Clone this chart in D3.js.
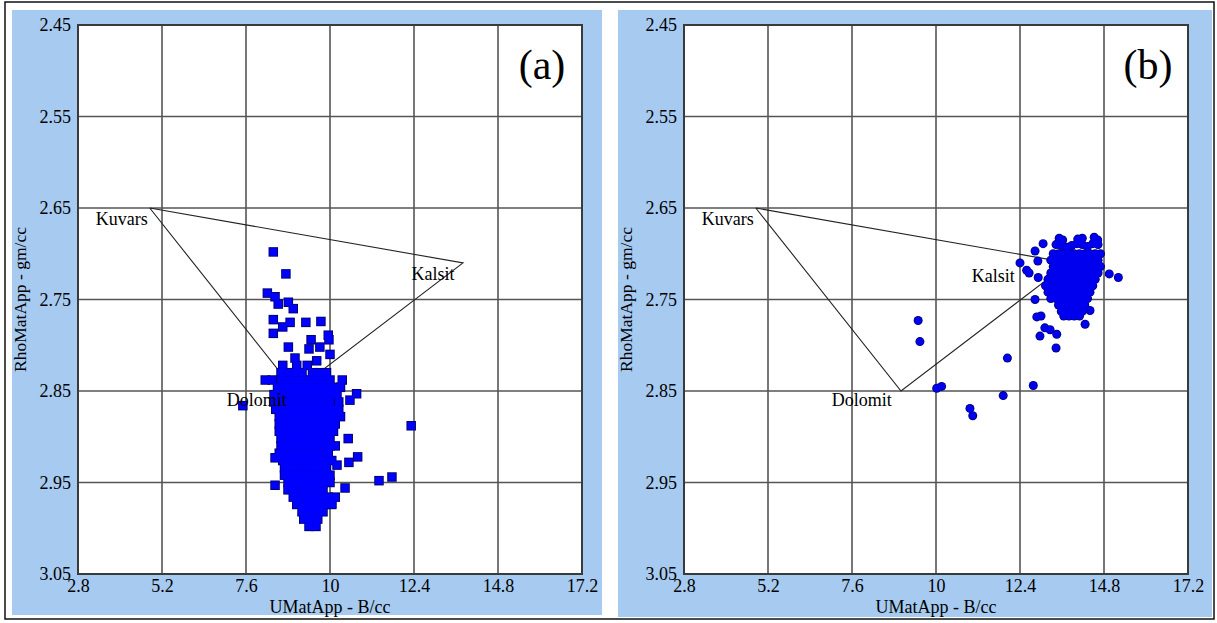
<!DOCTYPE html>
<html>
<head>
<meta charset="utf-8">
<script src="https://cdn.jsdelivr.net/npm/d3@7/dist/d3.min.js"></script>
<style>
  html, body { margin: 0; padding: 0; background: #ffffff; }
  svg { display: block; }
  text { font-family: "Liberation Serif", "Times New Roman", serif; fill: #000; }
</style>
</head>
<body>
<svg id="chart" width="1217" height="623"></svg>
<script>
// Axis ticks (apparent matrix photoelectric cross-section vs apparent matrix density)
const uTicks = [2.8, 5.2, 7.6, 10, 12.4, 14.8, 17.2];
const rhoTicks = [2.45, 2.55, 2.65, 2.75, 2.85, 2.95, 3.05];

// Mineral end-points of the lithology triangle
const mineralNames = ["Kuvars", "Kalsit", "Dolomit"];
const mineralU = [4.85, 13.8, 9.0];
const mineralRho = [2.65, 2.71, 2.85];

// Panel (a): UMatApp, RhoMatApp pairs
const wellA = [
  [8.38,2.698],[8.74,2.722],[8.21,2.743],[8.43,2.747],[8.52,2.755],[8.81,2.753],[8.95,2.760],
  [8.38,2.772],[8.86,2.775],[8.65,2.780],[8.38,2.787],[9.31,2.775],[9.74,2.774],[9.95,2.789],
  [9.97,2.794],[9.46,2.794],[9.71,2.802],[9.40,2.804],[8.81,2.802],[10.0,2.810],[9.0,2.814],
  [9.62,2.817],[7.51,2.866],[10.76,2.853],[10.57,2.860],[10.52,2.902],[10.79,2.922],[10.54,2.928],
  [10.2,2.931],[8.43,2.923],[8.43,2.953],[10.43,2.956],[11.40,2.948],[11.77,2.944],[12.32,2.888],
  [10.05,2.973],
  [8.65,2.822],[9.05,2.822],[9.35,2.822],
  [8.6,2.830],[8.8,2.830],[9.0,2.830],[9.2,2.830],[9.5,2.830],[9.7,2.830],[9.9,2.830],
  [8.15,2.838],[8.35,2.838],[8.6,2.838],[8.8,2.838],[9.0,2.838],[9.2,2.838],[9.4,2.838],[9.6,2.838],[9.8,2.838],[10.0,2.838],[10.35,2.838],
  [8.5,2.846],[8.7,2.846],[8.9,2.846],[9.1,2.846],[9.3,2.846],[9.5,2.846],[9.7,2.846],[9.9,2.846],[10.1,2.846],[10.3,2.846],
  [8.4,2.854],[8.6,2.854],[8.8,2.854],[9.0,2.854],[9.2,2.854],[9.4,2.854],[9.6,2.854],[9.8,2.854],[10.0,2.854],[10.2,2.854],
  [8.4,2.862],[8.6,2.862],[8.8,2.862],[9.0,2.862],[9.2,2.862],[9.4,2.862],[9.6,2.862],[9.8,2.862],[10.0,2.862],[10.25,2.862],
  [8.45,2.870],[8.65,2.870],[8.85,2.870],[9.05,2.870],[9.25,2.870],[9.45,2.870],[9.65,2.870],[9.85,2.870],[10.05,2.870],[10.25,2.870],
  [8.55,2.878],[8.75,2.878],[8.95,2.878],[9.15,2.878],[9.35,2.878],[9.55,2.878],[9.75,2.878],[9.95,2.878],[10.15,2.878],[10.3,2.878],
  [8.55,2.886],[8.75,2.886],[8.95,2.886],[9.15,2.886],[9.35,2.886],[9.55,2.886],[9.75,2.886],[9.95,2.886],[10.15,2.886],
  [8.55,2.894],[8.75,2.894],[8.95,2.894],[9.15,2.894],[9.35,2.894],[9.55,2.894],[9.75,2.894],[9.95,2.894],[10.1,2.894],
  [8.6,2.902],[8.8,2.902],[9.0,2.902],[9.2,2.902],[9.4,2.902],[9.6,2.902],[9.8,2.902],[10.0,2.902],
  [8.6,2.910],[8.8,2.910],[9.0,2.910],[9.2,2.910],[9.4,2.910],[9.6,2.910],[9.8,2.910],[10.0,2.910],[10.15,2.910],
  [8.55,2.918],[8.75,2.918],[8.95,2.918],[9.15,2.918],[9.35,2.918],[9.55,2.918],[9.75,2.918],[9.95,2.918],
  [8.65,2.926],[8.85,2.926],[9.05,2.926],[9.25,2.926],[9.45,2.926],[9.65,2.926],[9.85,2.926],[10.05,2.926],
  [8.7,2.934],[8.9,2.934],[9.1,2.934],[9.3,2.934],[9.5,2.934],[9.7,2.934],[9.9,2.934],
  [8.7,2.942],[8.9,2.942],[9.1,2.942],[9.3,2.942],[9.5,2.942],[9.7,2.942],[9.9,2.942],[10.0,2.942],
  [8.8,2.950],[9.0,2.950],[9.2,2.950],[9.4,2.950],[9.6,2.950],[9.8,2.950],[10.0,2.950],
  [8.8,2.958],[9.0,2.958],[9.2,2.958],[9.4,2.958],[9.6,2.958],[9.8,2.958],
  [8.95,2.966],[9.15,2.966],[9.35,2.966],[9.55,2.966],[9.75,2.966],[9.95,2.966],[10.15,2.966],
  [9.05,2.974],[9.25,2.974],[9.45,2.974],[9.65,2.974],[9.85,2.974],[10.05,2.974],
  [9.2,2.982],[9.4,2.982],[9.6,2.982],[9.8,2.982],
  [9.25,2.990],[9.45,2.990],[9.65,2.990],
  [9.4,2.998],[9.6,2.998]
];

// Panel (b): UMatApp, RhoMatApp pairs
const wellB = [
  [9.49,2.773],[9.54,2.796],[10.02,2.847],[10.16,2.845],[10.97,2.869],[11.05,2.877],[12.04,2.814],
  [11.92,2.855],[12.78,2.844],[13.43,2.803],[12.97,2.790],[13.11,2.781],[13.26,2.783],[13.45,2.788],
  [12.88,2.769],[13.0,2.768],[14.26,2.777],[14.40,2.762],[14.95,2.722],[15.21,2.726],
  [12.40,2.710],[12.59,2.718],[12.66,2.721],[12.92,2.726],[12.83,2.697],[13.06,2.689],[12.91,2.708],
  [12.83,2.750],
  [13.52,2.683],[13.62,2.685],[14.05,2.684],[14.18,2.683],[14.52,2.682],[14.62,2.685],
  [13.43,2.690],[13.58,2.691],[13.73,2.693],[13.88,2.691],[14.03,2.689],[14.18,2.690],[14.33,2.692],[14.48,2.689],[14.63,2.690],
  [13.35,2.700],[13.5,2.700],[13.65,2.700],[13.8,2.700],[13.95,2.700],[14.1,2.700],[14.25,2.700],[14.4,2.700],[14.55,2.700],[14.7,2.700],
  [13.28,2.707],[13.43,2.707],[13.58,2.707],[13.73,2.707],[13.88,2.707],[14.03,2.707],[14.18,2.707],[14.33,2.707],[14.48,2.707],[14.63,2.707],
  [13.35,2.714],[13.5,2.714],[13.65,2.714],[13.8,2.714],[13.95,2.714],[14.1,2.714],[14.25,2.714],[14.4,2.714],[14.55,2.714],[14.7,2.714],
  [13.28,2.721],[13.43,2.721],[13.58,2.721],[13.73,2.721],[13.88,2.721],[14.03,2.721],[14.18,2.721],[14.33,2.721],[14.48,2.721],[14.63,2.721],
  [13.2,2.728],[13.35,2.728],[13.5,2.728],[13.65,2.728],[13.8,2.728],[13.95,2.728],[14.1,2.728],[14.25,2.728],[14.4,2.728],[14.55,2.728],
  [13.13,2.735],[13.28,2.735],[13.43,2.735],[13.58,2.735],[13.73,2.735],[13.88,2.735],[14.03,2.735],[14.18,2.735],[14.33,2.735],[14.48,2.735],
  [13.2,2.742],[13.35,2.742],[13.5,2.742],[13.65,2.742],[13.8,2.742],[13.95,2.742],[14.1,2.742],[14.25,2.742],[14.4,2.742],
  [13.28,2.749],[13.43,2.749],[13.58,2.749],[13.73,2.749],[13.88,2.749],[14.03,2.749],[14.18,2.749],[14.33,2.749],
  [13.5,2.756],[13.65,2.756],[13.8,2.756],[13.95,2.756],[14.1,2.756],[14.25,2.756],
  [13.58,2.763],[13.73,2.763],[13.88,2.763],[14.03,2.763],[14.18,2.763],
  [13.65,2.768],[13.8,2.768],[13.95,2.768],[14.1,2.768]
];

const svg = d3.select("#chart");

// outer frame
svg.append("rect")
  .attr("x", 5).attr("y", 2).attr("width", 1209).attr("height", 617)
  .attr("fill", "#fff").attr("stroke", "#111").attr("stroke-width", 1.5);

const plotTop = 25, plotBottom = 574, plotW = 504;

const panels = [
  { tag: "(a)", bg: [12, 10, 590, 605], left: 78, data: wellA, marker: "square",
    labelPos: { Kuvars: [3.31, 2.6686], Kalsit: [12.33, 2.7287], Dolomit: [7.05, 2.8664] } },
  { tag: "(b)", bg: [618, 10, 594, 607], left: 684, data: wellB, marker: "circle",
    labelPos: { Kuvars: [3.31, 2.6686], Kalsit: [11.02, 2.7309], Dolomit: [7.02, 2.8664] } }
];

panels.forEach(p => {
  const g = svg.append("g");
  g.append("rect")
    .attr("x", p.bg[0]).attr("y", p.bg[1]).attr("width", p.bg[2]).attr("height", p.bg[3])
    .attr("fill", "#a6caf0");

  const x = d3.scaleLinear().domain([2.8, 17.2]).range([p.left, p.left + plotW]);
  const y = d3.scaleLinear().domain([2.45, 3.05]).range([plotTop, plotBottom]);

  // plot area
  g.append("rect")
    .attr("x", p.left).attr("y", plotTop).attr("width", plotW).attr("height", plotBottom - plotTop)
    .attr("fill", "#fff");

  // grid
  const grid = g.append("g").attr("stroke", "#555").attr("stroke-width", 1.6);
  grid.selectAll("line.v").data(uTicks).join("line").attr("class", "v")
    .attr("x1", d => x(d)).attr("x2", d => x(d)).attr("y1", plotTop).attr("y2", plotBottom);
  grid.selectAll("line.h").data(rhoTicks).join("line").attr("class", "h")
    .attr("y1", d => y(d)).attr("y2", d => y(d)).attr("x1", p.left).attr("x2", p.left + plotW);

  // tick labels through axes
  const xAxis = d3.axisBottom(x).tickValues(uTicks).tickSize(0).tickPadding(5).tickFormat(d => String(d));
  const ax = g.append("g").attr("transform", `translate(0,${plotBottom})`).call(xAxis);
  ax.attr("font-family", null);
  ax.select(".domain").remove();
  ax.selectAll("text").attr("font-size", 18).attr("fill", "#000");

  const yAxis = d3.axisLeft(y).tickValues(rhoTicks).tickSize(0).tickPadding(7).tickFormat(d => String(d));
  const ay = g.append("g").attr("transform", `translate(${p.left},0)`).call(yAxis);
  ay.attr("font-family", null);
  ay.select(".domain").remove();
  ay.selectAll("text").attr("font-size", 18).attr("fill", "#000");

  // lithology triangle
  const tri = d3.range(mineralNames.length).map(i => [x(mineralU[i]), y(mineralRho[i])]);
  g.append("path")
    .attr("d", d3.line()([...tri, tri[0]]))
    .attr("fill", "none").attr("stroke", "#222").attr("stroke-width", 1.1);

  // data points: dark outline layer underneath, blue fill layer on top
  const outline = g.append("g"), fill = g.append("g");
  if (p.marker === "square") {
    outline.selectAll("rect").data(p.data).join("rect")
      .attr("x", d => x(d[0]) - 4.75).attr("y", d => y(d[1]) - 4.75)
      .attr("width", 9.5).attr("height", 9.5).attr("fill", "#000070");
    fill.selectAll("rect").data(p.data).join("rect")
      .attr("x", d => x(d[0]) - 3.8).attr("y", d => y(d[1]) - 3.8)
      .attr("width", 7.6).attr("height", 7.6).attr("fill", "#0000ff");
  } else {
    outline.selectAll("circle").data(p.data).join("circle")
      .attr("cx", d => x(d[0])).attr("cy", d => y(d[1])).attr("r", 4.5)
      .attr("fill", "#000070");
    fill.selectAll("circle").data(p.data).join("circle")
      .attr("cx", d => x(d[0])).attr("cy", d => y(d[1])).attr("r", 3.7)
      .attr("fill", "#0000ee");
  }

  // plot border
  g.append("rect")
    .attr("x", p.left).attr("y", plotTop).attr("width", plotW).attr("height", plotBottom - plotTop)
    .attr("fill", "none").attr("stroke", "#3a3a3a").attr("stroke-width", 2);

  // mineral labels
  mineralNames.forEach(name => {
    const pos = p.labelPos[name];
    g.append("text").attr("x", x(pos[0])).attr("y", y(pos[1]))
      .attr("font-size", 18).text(name);
  });

  // panel tag
  g.append("text")
    .attr("x", p.left + plotW - 40).attr("y", 79)
    .attr("text-anchor", "middle").attr("font-size", 42).text(p.tag);

  // axis titles
  g.append("text")
    .attr("x", p.left + plotW / 2).attr("y", 613)
    .attr("text-anchor", "middle").attr("font-size", 18).text("UMatApp - B/cc");
  g.append("text")
    .attr("transform", `translate(${p.left - 52},${(plotTop + plotBottom) / 2}) rotate(-90)`)
    .attr("text-anchor", "middle").attr("font-size", 17.5).text("RhoMatApp - gm/cc");
});
</script>
</body>
</html>
